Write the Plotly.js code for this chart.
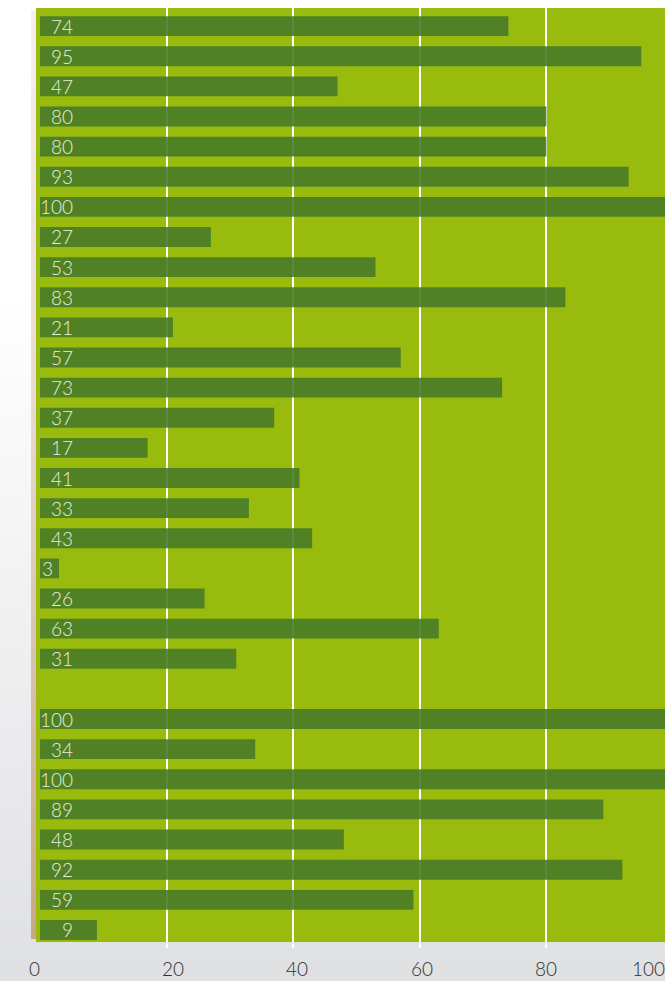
<!DOCTYPE html>
<html>
<head>
<meta charset="utf-8">
<script src="https://cdn.plot.ly/plotly-3.0.1.min.js"></script>
<style>
  html, body { margin: 0; padding: 0; }
  body {
    width: 665px; height: 981px; overflow: hidden; position: relative;
    background: linear-gradient(to bottom, #ffffff 0%, #ffffff 30%, #dfe0e2 100%);
  }
  #chart { width: 665px; height: 981px; position: absolute; left: 0; top: 0; }
  #strip {
    position: absolute; left: 31px; top: 10px; width: 5px; height: 929px;
    background: linear-gradient(to bottom, #f6f0ed 0%, #e6d8cf 45%, #c6a885 100%);
  }
</style>
</head>
<body>
<div id="strip"></div>
<div id="chart"></div>
<script>
// ---- data ----
var categories = ['R1','R2','R3','R4','R5','R6','R7','R8','R9','R10','R11','R12','R13','R14','R15','R16',
                  'R17','R18','R19','R20','R21','R22','R23','R24','R25','R26','R27','R28','R29','R30','R31'];
var values = [74, 95, 47, 80, 80, 93, 100, 27, 53, 83, 21, 57, 73, 37, 17, 41,
              33, 43, 3, 26, 63, 31, null, 100, 34, 100, 89, 48, 92, 59, 9];
var barLabels = ['74','95','47','80','80','93','100','27','53','83','21','57','73','37','17','41',
                 '33','43','3','26','63','31','','100','34','100','89','48','92','59','9'];
var tickValues = [0, 20, 40, 60, 80, 100];
var tickLabels = ['0', '20', '40', '60', '80', '100'];
var gridValues = [20, 40, 60, 80];

// ---- styling ----
var xRange = [-0.63, 98.74];
var labelFont = {family: 'Lato, "Open Sans", sans-serif', size: 19, color: '#e8eedb', weight: 300};
var tickFont = {family: 'Lato, "Open Sans", sans-serif', size: 19, color: '#2f2f2f', weight: 300};

var trace = {
  type: 'bar',
  orientation: 'h',
  y: categories,
  x: values,
  width: 0.66,
  marker: {color: 'rgba(72,124,40,0.9)', line: {width: 0}},
  hoverinfo: 'skip'
};

var annotations = [];
for (var i = 0; i < categories.length; i++) {
  if (values[i] === null) continue;
  var small = values[i] < 5;
  annotations.push({
    xref: 'x', yref: 'y',
    x: small ? 0 : 5.55,
    y: categories[i],
    xanchor: small ? 'left' : 'right',
    yanchor: 'middle',
    text: barLabels[i],
    showarrow: false,
    font: labelFont
  });
}
var tickShift = [-5, 6, 4, 2, 0, -24];
for (var k = 0; k < tickValues.length; k++) {
  annotations.push({
    xref: 'paper', yref: 'paper',
    x: (tickValues[k] - xRange[0]) / (xRange[1] - xRange[0]), y: 0,
    xanchor: 'center', yanchor: 'middle',
    xshift: tickShift[k], yshift: -26,
    text: tickLabels[k],
    showarrow: false,
    font: tickFont
  });
}

var layout = {
  width: 665,
  height: 981,
  margin: {l: 36, r: 0, t: 8, b: 39, pad: 0},
  paper_bgcolor: 'rgba(0,0,0,0)',
  plot_bgcolor: '#98bb0d',
  showlegend: false,
  xaxis: {
    range: xRange,
    tickvals: gridValues,
    showticklabels: false,
    ticks: 'outside',
    ticklen: 5,
    tickwidth: 2,
    tickcolor: '#ffffff',
    showgrid: true,
    gridcolor: '#ffffff',
    gridwidth: 2,
    zeroline: false,
    showline: false,
    fixedrange: true
  },
  yaxis: {
    type: 'category',
    categoryorder: 'array',
    categoryarray: categories,
    range: [30.4, -0.6],
    showticklabels: false,
    ticks: '',
    showgrid: false,
    zeroline: false,
    showline: false,
    fixedrange: true
  },
  annotations: annotations
};

Plotly.newPlot('chart', [trace], layout, {displayModeBar: false, staticPlot: true});
</script>
</body>
</html>
